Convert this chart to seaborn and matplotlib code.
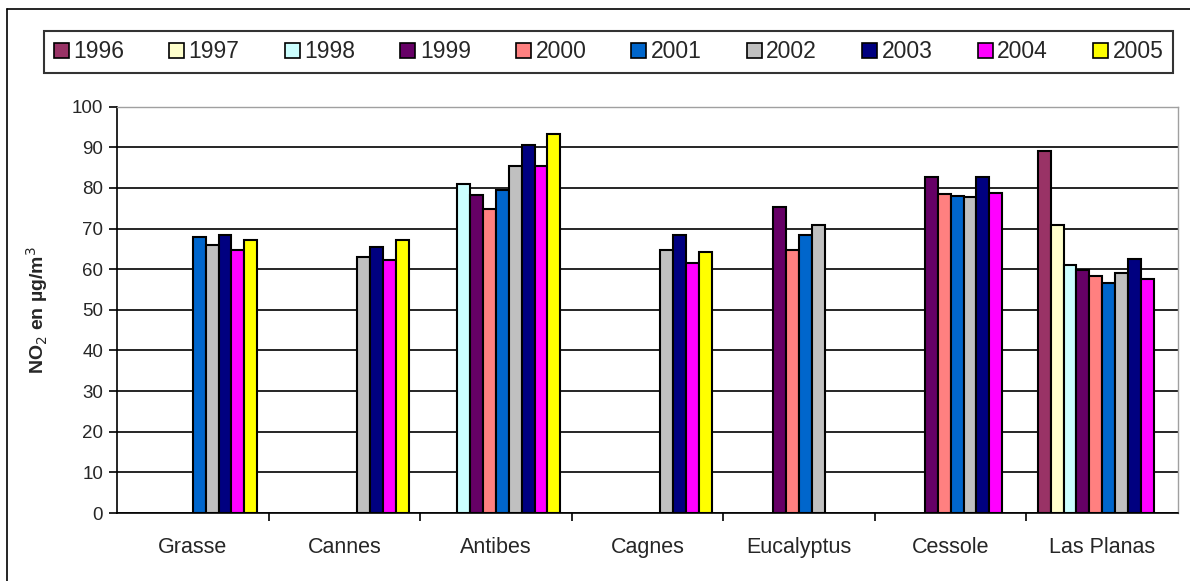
import numpy as np
import pandas as pd
import matplotlib
matplotlib.use("Agg")
import matplotlib.pyplot as plt
from matplotlib.lines import Line2D
from matplotlib.ticker import FixedLocator
import seaborn as sns

"""
NO2 annual means per site, 1996-2005 (grouped bars, Excel style).
"""

nan = np.nan
sites = ["Grasse", "Cannes", "Antibes", "Cagnes", "Eucalyptus", "Cessole", "Las Planas"]
years = ["1996", "1997", "1998", "1999", "2000", "2001", "2002", "2003", "2004", "2005"]

y1996 = [nan, nan, nan, nan, nan, nan, 89.1]
y1997 = [nan, nan, nan, nan, nan, nan, 70.8]
y1998 = [nan, nan, 81.0, nan, nan, nan, 61.0]
y1999 = [nan, nan, 78.2, nan, 75.2, 82.6, 59.8]
y2000 = [nan, nan, 74.8, nan, 64.8, 78.6, 58.4]
y2001 = [67.9, nan, 79.6, nan, 68.4, 78.1, 56.6]
y2002 = [65.9, 63.0, 85.5, 64.8, 70.8, 77.7, 59.0]
y2003 = [68.4, 65.5, 90.6, 68.4, nan, 82.6, 62.5]
y2004 = [64.8, 62.3, 85.5, 61.5, nan, 78.7, 57.5]
y2005 = [67.3, 67.3, 93.4, 64.3, nan, nan, nan]

colors = ["#993366", "#FFFFCC", "#CCFFFF", "#660066", "#FF8080",
          "#0066CC", "#C0C0C0", "#000080", "#FF00FF", "#FFFF00"]


def build_frame():
    series = [y1996, y1997, y1998, y1999, y2000, y2001, y2002, y2003, y2004, y2005]
    rows = []
    for year, vals in zip(years, series):
        for site, v in zip(sites, vals):
            if not np.isnan(v):
                rows.append({"site": site, "year": year, "no2": v})
    return pd.DataFrame(rows)


def main():
    sns.set_style("white")
    plt.rcParams["font.family"] = ["Liberation Sans", "DejaVu Sans"]

    df = build_frame()
    fig = plt.figure(figsize=(11.9, 5.81), dpi=100)
    ax = fig.add_axes([117 / 1190, 1 - 513 / 581, (1178 - 117) / 1190, (513 - 106.7) / 581])

    sns.barplot(data=df, x="site", y="no2", hue="year", order=sites, hue_order=years,
                palette=colors, saturation=1, width=0.85, errorbar=None, edgecolor="black",
                linewidth=1.5, ax=ax, legend=True)

    ax.set_ylim(0, 100)
    ax.set_xlim(-0.5, len(sites) - 0.5)
    ax.set_yticks(range(0, 101, 10))
    ax.yaxis.grid(True, color="black", linewidth=1.2)
    ax.set_axisbelow(True)
    for b in ax.patches:
        b.set_zorder(3)

    # spines like Excel: solid axes, dashed grey plot area border
    ax.spines["left"].set_color("black")
    ax.spines["left"].set_linewidth(1.2)
    ax.spines["bottom"].set_color("black")
    ax.spines["bottom"].set_linewidth(1.2)
    for s in ["top", "right"]:
        ax.spines[s].set_color("#a0a0a0")
        ax.spines[s].set_linestyle((0, (2, 1)))
        ax.spines[s].set_linewidth(1.0)

    ax.tick_params(axis="y", direction="out", length=6, width=1.2, color="black",
                   labelsize=13.5, pad=4, left=True)
    ax.tick_params(axis="x", which="major", length=0, labelsize=15.5, pad=17)
    ax.xaxis.set_minor_locator(FixedLocator(np.arange(0.5, len(sites) - 0.5, 1.0)))
    ax.tick_params(axis="x", which="minor", direction="out", length=6, width=1.2,
                   color="black", bottom=True)
    ax.set_xlabel("")
    ax.set_ylabel("NO$_2$ en µg/m$^3$", fontsize=14, fontweight="bold")
    ax.yaxis.set_label_coords(-0.063, 0.5)

    handles, labels = ax.get_legend_handles_labels()
    ax.get_legend().remove()
    leg = fig.legend(handles, labels, loc="center", ncol=10, mode="expand",
                     bbox_to_anchor=(33 / 1190, 1 - 80 / 581, (1184 - 33) / 1190, 56 / 581),
                     fontsize=16.5, frameon=True, fancybox=False, handlelength=0.65,
                     handleheight=0.65, handletextpad=0.2, columnspacing=0.5,
                     borderpad=0.4)
    leg.get_frame().set_edgecolor("black")
    leg.get_frame().set_linewidth(1.5)
    for h in leg.legend_handles:
        h.set_edgecolor("black")
        h.set_linewidth(1.2)

    # outer chart frame (left and top visible)
    fig.add_artist(Line2D([7 / 1190, 7 / 1190], [0, 1 - 9 / 581], transform=fig.transFigure,
                          color="black", linewidth=1.2))
    fig.add_artist(Line2D([7 / 1190, 1], [1 - 9 / 581, 1 - 9 / 581], transform=fig.transFigure,
                          color="black", linewidth=1.2))

    fig.savefig("out.png", dpi=100)
    pass


main()
